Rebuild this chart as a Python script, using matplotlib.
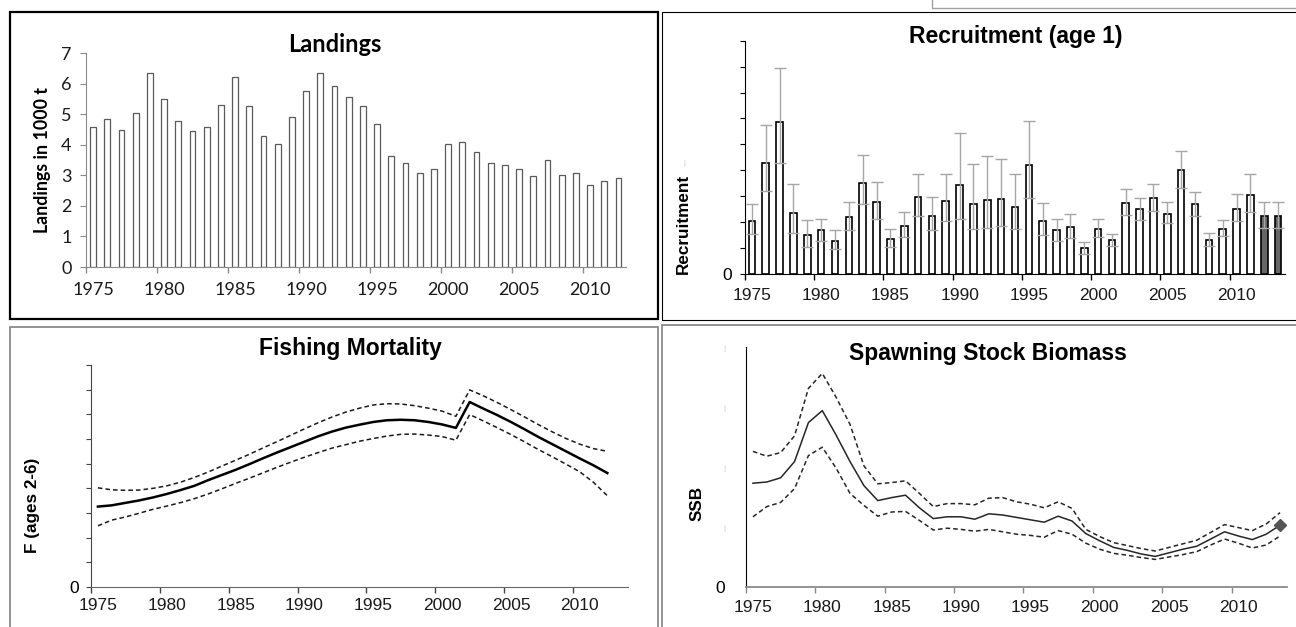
import matplotlib
matplotlib.use("Agg")
import matplotlib.pyplot as plt
from matplotlib.patches import Rectangle
from matplotlib.lines import Line2D

W, H = 1296, 627

# ---- data ----
land_years = list(range(1975, 2013))
landings = [4.58, 4.84, 4.48, 5.04, 6.36, 5.50, 4.77, 4.46, 4.58, 5.31,
            6.20, 5.26, 4.27, 4.02, 4.92, 5.75, 6.36, 5.92, 5.56, 5.26,
            4.67, 3.63, 3.39, 3.08, 3.21, 4.02, 4.09, 3.75, 3.39, 3.33,
            3.20, 2.99, 3.50, 3.02, 3.08, 2.68, 2.80, 2.92]

rec_years = list(range(1975, 2014))
recruitment = [2.05, 4.29, 5.85, 2.37, 1.50, 1.68, 1.28, 2.18, 3.51, 2.76,
               1.36, 1.86, 2.97, 2.24, 2.83, 3.45, 2.69, 2.87, 2.91, 2.59,
               4.21, 2.05, 1.68, 1.83, 1.00, 1.74, 1.33, 2.73, 2.51, 2.95,
               2.33, 4.01, 2.69, 1.33, 1.74, 2.51, 3.05, 2.22, 2.22]
rec_hi = [2.69, 5.76, 7.95, 3.46, 2.08, 2.14, 1.69, 2.79, 4.60, 3.53,
          1.72, 2.41, 3.87, 2.97, 3.85, 5.44, 4.24, 4.54, 4.45, 3.87,
          5.91, 2.73, 2.12, 2.33, 1.22, 2.14, 1.55, 3.27, 2.95, 3.49,
          2.77, 4.74, 3.17, 1.59, 2.08, 3.10, 3.85, 2.79, 2.79]
rec_lo = [1.54, 3.19, 4.29, 1.60, 1.03, 1.26, 0.95, 1.69, 2.69, 2.12,
          1.03, 1.44, 2.23, 1.69, 2.05, 2.14, 1.72, 1.78, 1.87, 1.72,
          2.95, 1.50, 1.29, 1.40, 0.79, 1.44, 1.08, 2.27, 2.08, 2.44,
          1.97, 3.33, 2.23, 1.08, 1.46, 2.05, 2.41, 1.76, 1.76]
rec_assumed = [2012, 2013]   # grey bars

f_years = list(range(1975, 2013))
f_mean = [3.26, 3.31, 3.41, 3.51, 3.63, 3.77, 3.93, 4.10, 4.33, 4.54,
          4.75, 4.98, 5.22, 5.45, 5.67, 5.89, 6.11, 6.30, 6.46, 6.58,
          6.69, 6.76, 6.78, 6.76, 6.69, 6.59, 6.45, 7.50, 7.23, 6.97,
          6.69, 6.39, 6.08, 5.79, 5.50, 5.21, 4.93, 4.62]
f_hi = [4.02, 3.94, 3.92, 3.93, 4.00, 4.10, 4.25, 4.44, 4.66, 4.90,
        5.14, 5.38, 5.64, 5.89, 6.15, 6.41, 6.66, 6.89, 7.09, 7.25,
        7.38, 7.43, 7.42, 7.35, 7.25, 7.13, 6.92, 7.99, 7.75, 7.48,
        7.19, 6.89, 6.58, 6.29, 6.02, 5.79, 5.61, 5.50]
f_lo = [2.48, 2.71, 2.84, 2.99, 3.15, 3.28, 3.42, 3.58, 3.77, 3.98,
        4.20, 4.41, 4.63, 4.85, 5.06, 5.26, 5.45, 5.63, 5.77, 5.91,
        6.02, 6.12, 6.19, 6.20, 6.16, 6.10, 5.95, 6.99, 6.73, 6.46,
        6.18, 5.88, 5.57, 5.28, 4.98, 4.67, 4.24, 3.70]

ssb_years = list(range(1975, 2014))
ssb = [1.73, 1.75, 1.82, 2.09, 2.74, 2.94, 2.53, 2.09, 1.69, 1.44,
       1.49, 1.53, 1.32, 1.14, 1.17, 1.17, 1.13, 1.22, 1.20, 1.16,
       1.12, 1.08, 1.18, 1.10, 0.89, 0.77, 0.66, 0.61, 0.55, 0.51,
       0.57, 0.63, 0.68, 0.80, 0.92, 0.85, 0.79, 0.88, 1.03]
ssb_hi = [2.26, 2.18, 2.24, 2.52, 3.31, 3.56, 3.16, 2.71, 2.02, 1.72,
          1.74, 1.77, 1.56, 1.34, 1.39, 1.39, 1.37, 1.48, 1.49, 1.42,
          1.38, 1.32, 1.42, 1.31, 0.96, 0.84, 0.74, 0.69, 0.64, 0.60,
          0.66, 0.72, 0.78, 0.91, 1.04, 0.99, 0.94, 1.05, 1.24]
ssb_lo = [1.17, 1.34, 1.41, 1.64, 2.19, 2.33, 1.98, 1.56, 1.36, 1.18,
          1.25, 1.26, 1.11, 0.95, 0.98, 0.96, 0.93, 0.96, 0.92, 0.88,
          0.86, 0.83, 0.94, 0.88, 0.73, 0.63, 0.56, 0.53, 0.49, 0.46,
          0.50, 0.54, 0.59, 0.70, 0.80, 0.73, 0.65, 0.70, 0.85]

tick_years = [1975, 1980, 1985, 1990, 1995, 2000, 2005, 2010]
SANS = "Liberation Sans"
CALIBRI = "Lato"
TITLE = 16.5
TICK = 12.5
YLAB = 12.3

fig = plt.figure(figsize=(W / 100, H / 100), dpi=100)


def px_axes(left, right, bottom, top):
    return fig.add_axes([left / W, 1 - bottom / H, (right - left) / W, (bottom - top) / H])


def box(x0, y0, x1, y1, color, lw):
    fig.add_artist(Rectangle((x0 / W, 1 - y1 / H), (x1 - x0) / W, (y1 - y0) / H,
                             transform=fig.transFigure, fill=False,
                             edgecolor=color, linewidth=lw))


def year_axis(ax, x_hi, color, pad, size, family):
    ax.set_xlim(1974.5, x_hi)
    ax.set_xticks([y - 0.5 for y in tick_years])
    ax.set_xticklabels([])
    ax.tick_params(axis="x", which="major", direction="out", length=4, width=1, color=color)
    ax.set_xticks(tick_years, minor=True)
    ax.set_xticklabels([str(y) for y in tick_years], minor=True)
    ax.tick_params(axis="x", which="minor", length=0, pad=pad, labelsize=size)
    for lab in ax.get_xticklabels(minor=True):
        lab.set_family(family)
        lab.set_color("#1a1a1a")
    for s in ("top", "right"):
        ax.spines[s].set_visible(False)


# panel frames
box(10, 12, 658, 319, "black", 1.6)
box(662, 12, 1302, 320, "black", 0.8)
box(10, 327, 658, 640, "#8a8a8a", 1.3)
box(662, 325, 1302, 640, "#8a8a8a", 1.3)
fig.add_artist(Line2D([932 / W, 932 / W, 1], [1, 1 - 8 / H, 1 - 8 / H],
                      transform=fig.transFigure, color="#a0a0a0", lw=1))

# ---- Landings ----
ax1 = px_axes(86, 625.6, 267, 53)
ax1.bar(land_years, landings, width=0.42, color="white", edgecolor="#5a5a5a", linewidth=0.9)
ax1.set_ylim(0, 7)
ax1.set_yticks(range(8))
ax1.tick_params(axis="y", direction="out", length=4.3, color="#8a8a8a", pad=6, labelsize=13)
for lab in ax1.get_yticklabels():
    lab.set_family(CALIBRI)
    lab.set_color("#1a1a1a")
year_axis(ax1, 2012.5, "#8a8a8a", 11, 13, CALIBRI)
ax1.spines["left"].set_color("#8a8a8a")
ax1.spines["bottom"].set_color("#8a8a8a")
fig.text(335 / W, 1 - 45 / H, "Landings", ha="center", va="center",
         fontsize=17, fontweight="bold", family=CALIBRI)
fig.text(43 / W, 1 - 160 / H, "Landings in 1000 t", ha="center", va="center",
         rotation=90, fontsize=12.8, fontweight="bold", family=CALIBRI)

# ---- Recruitment ----
ax2 = px_axes(745, 1285, 274, 40.7)
fill = ["#666666" if y in rec_assumed else "white" for y in rec_years]
ax2.bar(rec_years, recruitment, width=0.48, color=fill, edgecolor="black", linewidth=1.2, zorder=2)
err = [[r - lo for r, lo in zip(recruitment, rec_lo)],
       [hi - r for r, hi in zip(recruitment, rec_hi)]]
ax2.errorbar(rec_years, recruitment, yerr=err, fmt="none", ecolor="#a6a6a6",
             elinewidth=1, capsize=4.5, capthick=1, zorder=3)
ax2.set_ylim(0, 9)
ax2.set_yticks(range(10))
ax2.set_yticklabels(["0"] + [""] * 9)
ax2.tick_params(axis="y", direction="out", length=3.6, color="black", pad=6, labelsize=TICK)
for lab in ax2.get_yticklabels():
    lab.set_family(SANS)
year_axis(ax2, 2013.5, "black", 10, TICK, SANS)
fig.text(1016 / W, 1 - 37 / H, "Recruitment (age 1)", ha="center", va="center",
         fontsize=TITLE, fontweight="bold", family=SANS)
fig.text(683 / W, 1 - 224 / H, "Recruitment", ha="center", va="center",
         rotation=90, fontsize=YLAB, fontweight="bold", family=SANS)
fig.text(684 / W, 1 - 163 / H, "|", ha="center", va="center",
         fontsize=5, color="#c8c8c8", family=SANS)

# ---- Fishing mortality ----
ax3 = px_axes(91, 628, 587, 365)
ax3.plot(f_years, f_hi, color="#1a1a1a", lw=1.1, dashes=(3, 2))
ax3.plot(f_years, f_lo, color="#1a1a1a", lw=1.1, dashes=(3, 2))
ax3.plot(f_years, f_mean, color="black", lw=1.8)
ax3.set_ylim(0, 9)
ax3.set_yticks(range(10))
ax3.set_yticklabels(["0"] + [""] * 9)
ax3.tick_params(axis="y", direction="out", length=3.6, color="#444444", pad=5, labelsize=TICK)
for lab in ax3.get_yticklabels():
    lab.set_family(SANS)
year_axis(ax3, 2013.5, "#444444", 8, TICK, SANS)
ax3.spines["left"].set_color("#444444")
ax3.spines["bottom"].set_color("#666666")
fig.text(350 / W, 1 - 348 / H, "Fishing Mortality", ha="center", va="center",
         fontsize=TITLE, fontweight="bold", family=SANS)
fig.text(33 / W, 1 - 505 / H, "F (ages 2-6)", ha="center", va="center",
         rotation=90, fontsize=YLAB, fontweight="bold", family=SANS)

# ---- Spawning stock biomass ----
ax4 = px_axes(746, 1287, 587, 347)
ax4.plot(ssb_years, ssb_hi, color="#262626", lw=1.1, dashes=(3, 2))
ax4.plot(ssb_years, ssb_lo, color="#262626", lw=1.1, dashes=(3, 2))
ax4.plot(ssb_years, ssb, color="#262626", lw=1.1)
ax4.plot(ssb_years[-1:], ssb[-1:], marker="D", color="#555555", markersize=6, lw=0)
ax4.set_ylim(0, 4)
ax4.set_yticks(range(5))
ax4.set_yticklabels(["0", "|", "|", "|", "|"])
ax4.tick_params(axis="y", length=0, pad=15, labelsize=TICK)
for i, lab in enumerate(ax4.get_yticklabels()):
    lab.set_family(SANS)
    if i > 0:
        lab.set_color("#c8c8c8")
        lab.set_fontsize(6)
year_axis(ax4, 2013.5, "#8a8a8a", 9, TICK, SANS)
ax4.spines["left"].set_color("black")
ax4.spines["bottom"].set_color("#8a8a8a")
ax4.spines["bottom"].set_linewidth(1.3)
fig.text(988 / W, 1 - 354 / H, "Spawning Stock Biomass", ha="center", va="center",
         fontsize=TITLE, fontweight="bold", family=SANS)
fig.text(697 / W, 1 - 503 / H, "SSB", ha="center", va="center",
         rotation=90, fontsize=YLAB, fontweight="bold", family=SANS)

fig.savefig("out.png", dpi=100)
